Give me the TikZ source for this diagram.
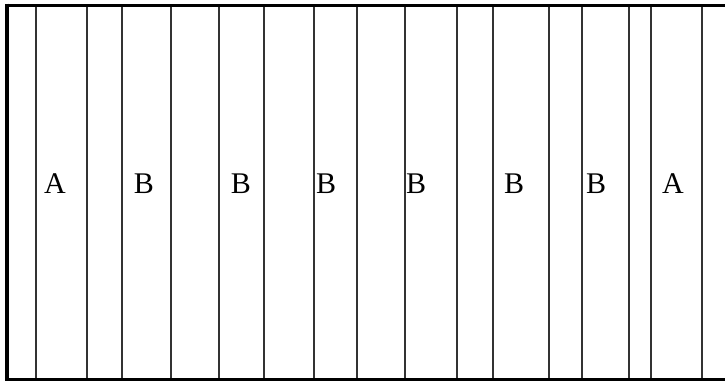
\documentclass[tikz,border=0pt]{standalone}
\usepackage{fontspec}
\setmainfont{Liberation Serif}
\begin{document}
\begin{tikzpicture}[x=1pt,y=-1pt,
  divider/.style={line width=1.6pt,draw=black!80},
  frame/.style={line width=3pt,draw=black},
  lbl/.style={font=\fontsize{30}{32}\selectfont,inner sep=0pt,anchor=base}]
\useasboundingbox (0,0) rectangle (725,381);
\foreach \x in {36,87,122,171,219,264,314,357,405,457,493,549,582,629,651,702}
  \draw[divider] (\x,5) -- (\x,379);
\draw[frame] (7,5) -- (725,5);
\draw[frame] (7,379) -- (725,379);
\draw[line width=4pt] (7,3.5) -- (7,380.5);
\node[lbl] (a1) at (55,193) {A};
\node[lbl] (b1) at (144,193) {B};
\node[lbl] (b2) at (241,193) {B};
\node[lbl] (b3) at (326,193) {B};
\node[lbl] (b4) at (416,193) {B};
\node[lbl] (b5) at (514,193) {B};
\node[lbl] (b6) at (596,193) {B};
\node[lbl] (a2) at (673,193) {A};
\end{tikzpicture}
\end{document}
